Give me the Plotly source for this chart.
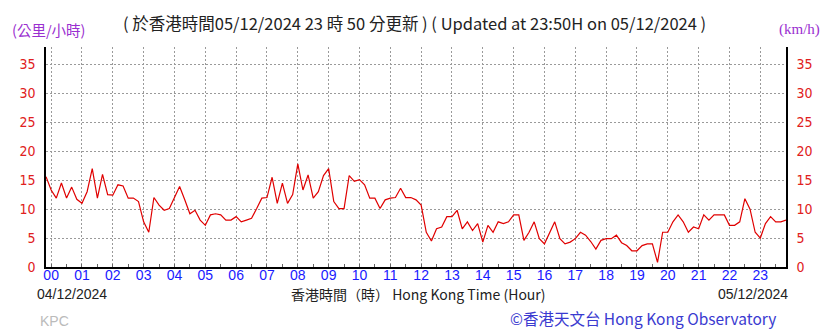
import plotly.graph_objects as go

# Time (minutes relative to 00:00 on 05/12/2024), 10-minute steps
minutes = list(range(-10, 1440, 10))
# Wind speed km/h
speed = [
    15.6, 13.3, 11.9, 14.5, 11.9, 13.8, 11.7,            # -10 .. 50
    11.0, 13.0, 17.0, 11.9, 16.0, 12.5,                  # 60 .. 110
    12.4, 14.2, 14.0, 11.9, 11.9, 11.3,                  # 120 .. 170
    7.8, 6.0, 12.0, 10.7, 9.8, 10.1,                     # 180 .. 230
    11.9, 13.9, 11.6, 9.2, 9.8, 8.1,                     # 240 .. 290
    7.2, 9.0, 9.2, 9.0, 8.1, 8.1,                        # 300 .. 350
    8.7, 7.8, 8.1, 8.4, 10.1, 11.9,                      # 360 .. 410
    12.0, 15.5, 11.0, 14.5, 11.0, 12.5,                  # 420 .. 470
    17.8, 13.3, 15.9, 11.9, 13.0, 15.8,                  # 480 .. 530
    17.0, 11.3, 10.1, 10.1, 15.8, 14.8,                  # 540 .. 590
    15.1, 14.2, 11.9, 11.9, 10.1, 11.6,                  # 600 .. 650
    11.9, 12.0, 13.6, 12.0, 12.0, 11.6,                  # 660 .. 710
    10.7, 6.0, 4.5, 6.6, 6.9, 8.7,                       # 720 .. 770
    8.7, 9.8, 6.6, 7.8, 6.3, 7.5,                        # 780 .. 830
    4.3, 7.2, 6.0, 7.8, 7.5, 7.8,                        # 840 .. 890
    9.0, 9.0, 4.6, 6.0, 7.8, 4.9,                        # 900 .. 950
    4.0, 5.8, 7.8, 4.9, 4.0, 4.3,                        # 960 .. 1010
    4.9, 6.0, 5.5, 4.4, 3.1, 4.6,                        # 1020 .. 1070
    4.9, 4.9, 5.5, 4.2, 3.7, 2.8,                        # 1080 .. 1130
    2.8, 3.7, 4.0, 4.0, 0.8, 6.0,                        # 1140 .. 1190
    6.0, 7.8, 9.0, 7.8, 6.0, 6.9,                        # 1200 .. 1250
    6.6, 9.0, 8.1, 9.0, 9.0, 9.0,                        # 1260 .. 1310
    7.2, 7.2, 7.8, 11.8, 10.0, 6.0,                      # 1320 .. 1370
    5.0, 7.5, 8.7, 7.8, 7.8, 8.1,                        # 1380 .. 1430
]
hours = [m / 60 for m in minutes]

hour_ticks = list(range(0, 24))
hour_labels = [f"{h:02d}" for h in hour_ticks]
y_ticks = [0, 5, 10, 15, 20, 25, 30, 35]

title_text = "( 於香港時間05/12/2024 23 時 50 分更新 ) ( Updated at 23:50H on 05/12/2024 )"
unit_left = "(公里/小時)"
unit_right = "(km/h)"
date_left = "04/12/2024"
date_right = "05/12/2024"
axis_title = "香港時間（時） Hong Kong Time (Hour)"
station = "KPC"
credit = "©香港天文台 Hong Kong Observatory"

FONT = "Liberation Sans, Noto Sans CJK TC, sans-serif"
CJK = "Noto Sans CJK TC, Liberation Sans, sans-serif"

W, H = 838, 331
L, R, T, B = 46, 52, 47, 64
PW, PH = W - L - R, H - T - B

fig = go.Figure()
fig.add_trace(go.Scatter(x=hours, y=speed, mode="lines",
                         line=dict(color="#e00000", width=1.2),
                         hoverinfo="skip", showlegend=False))
# invisible trace for right axis
fig.add_trace(go.Scatter(x=[hours[0]], y=[0], yaxis="y2", mode="markers",
                         marker=dict(opacity=0), hoverinfo="skip", showlegend=False))

grid = dict(showgrid=True, gridcolor="#9a9a9a", griddash="2px,2px", gridwidth=1)
yfont = dict(color="#e02020", size=14, family="DejaVu Sans Condensed, Liberation Sans")

fig.update_layout(
    width=W, height=H,
    margin=dict(l=L, r=R, t=T, b=B),
    paper_bgcolor="white", plot_bgcolor="white",
    xaxis=dict(range=[-1/6, 23 + 5/6], tickmode="array", tickvals=hour_ticks,
               ticktext=hour_labels, ticks="", tickfont=dict(color="#1a1aff", size=14, family=FONT),
               showline=True, linecolor="black", linewidth=1.5, mirror=False,
               zeroline=False, ticklabelstandoff=-6,
               minor=dict(dtick=0.5, tick0=0, ticks="inside", ticklen=3, tickcolor="#666", showgrid=False),
               **grid),
    yaxis=dict(range=[0, 38], tickmode="array", tickvals=y_ticks, ticks="",
               tickfont=yfont, showline=True, linecolor="black", linewidth=1.5,
               zeroline=False, ticklabelstandoff=6, **grid),
    yaxis2=dict(range=[0, 38], overlaying="y", side="right", tickmode="array",
                tickvals=y_ticks, ticks="", showgrid=False, zeroline=False,
                tickfont=yfont, showline=True, linecolor="black", linewidth=1.5,
                ticklabelstandoff=6),
)

ann = [
    dict(text=unit_left, x=10, y=29, xanchor="left", font=dict(color="#9a2fd0", size=14.5, family=CJK)),
    dict(text=title_text, x=414, y=23, xanchor="center", font=dict(color="#222", size=16.5, family=CJK)),
    dict(text=unit_right, x=799, y=29, xanchor="center", font=dict(color="#9a2fd0", size=15, family="Liberation Serif, DejaVu Serif")),
    dict(text=date_left, x=35, y=294, xanchor="left", font=dict(color="#222", size=14, family=FONT)),
    dict(text=axis_title, x=419, y=294, xanchor="center", font=dict(color="#222", size=14, family=CJK)),
    dict(text=date_right, x=790, y=294, xanchor="right", font=dict(color="#222", size=14, family=FONT)),
    dict(text=station, x=38, y=321, xanchor="left", font=dict(color="#bbbbbb", size=14, family=FONT)),
    dict(text=credit, x=778, y=318, xanchor="right", font=dict(color="#3a3ad0", size=15.5, family=CJK)),
]
for a in ann:
    fig.add_annotation(text=a["text"], x=(a["x"] - L) / PW, y=(H - B - a["y"]) / PH,
                       xref="paper", yref="paper", xanchor=a["xanchor"], yanchor="middle",
                       showarrow=False, font=a["font"])

fig.write_html("out.html")
